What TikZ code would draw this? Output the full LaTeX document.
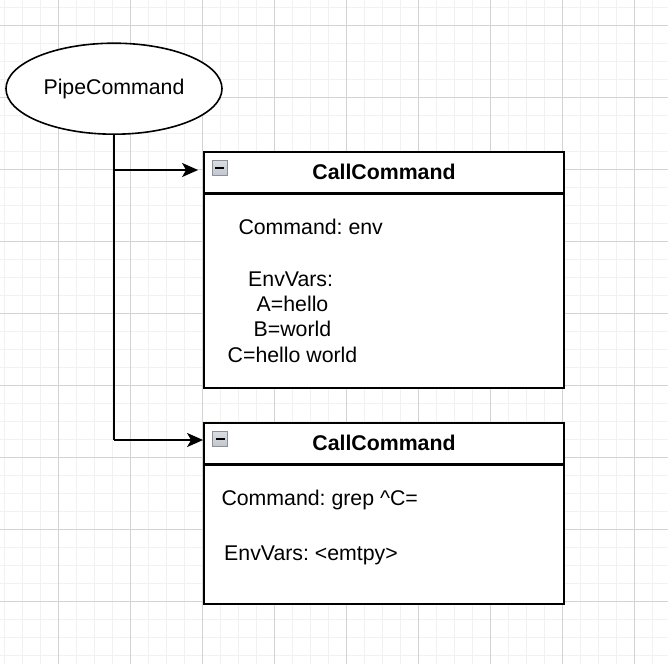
\documentclass[tikz,border=0pt]{standalone}
\usepackage{fontspec}
\setmainfont{Liberation Sans}
\frenchspacing
\usetikzlibrary{arrows.meta,shapes.geometric}
\definecolor{gridminor}{HTML}{F1F1F1}
\definecolor{gridmajor}{HTML}{D3D3D3}
\definecolor{iconfill}{HTML}{C2C6CE}
\definecolor{iconedge}{HTML}{8A8F99}
\tikzset{
  shapeline/.style={draw=black, line width=1.8pt},
  ellipsenode/.style={ellipse, draw=black, line width=1.6pt, fill=white, inner sep=0pt,
    minimum width=216pt, minimum height=91pt, font=\fontsize{21.3}{25}\selectfont},
  hdrbox/.style={shapeline, fill=white, minimum width=360pt, minimum height=40.7pt, inner sep=0pt,
    font=\fontsize{21.3}{25}\selectfont\bfseries},
  bodybox/.style={shapeline, fill=white, minimum width=360pt, inner sep=0pt},
  bodytext/.style={anchor=base west, inner sep=0pt, font=\fontsize{21.3}{25}\selectfont},
  iconbox/.style={draw=iconedge, line width=0.8pt, top color=iconfill!60!white, bottom color=iconfill,
    minimum size=15pt, inner sep=0pt},
  conn/.style={draw=black, line width=1.8pt},
  arr/.style={conn, -{Stealth[length=16pt,width=14pt,inset=4pt]}},
}
\begin{document}
\begin{tikzpicture}[x=1pt,y=-1pt]
\useasboundingbox (0,0) rectangle (668,664);
\fill[white] (0,0) rectangle (668,664);
% grid
\foreach \i in {0,...,36} {
  \draw[gridminor, line width=1pt] ({4.7+18*\i},0) -- ({4.7+18*\i},664);
  \draw[gridminor, line width=1pt] (0,{7.3+18*\i}) -- (668,{7.3+18*\i});
}
\foreach \i in {0,...,8} {
  \draw[gridmajor, line width=1pt] ({58.7+72*\i},0) -- ({58.7+72*\i},664);
  \draw[gridmajor, line width=1pt] (0,{25.3+72*\i}) -- (668,{25.3+72*\i});
}
% PipeCommand
\node[ellipsenode] (pipe) at (114,88.7) {\raisebox{-1pt}{PipeCommand}};
% first CallCommand
\node[hdrbox] (h1) at (384,172.35) {\raisebox{-1pt}{CallCommand}};
\node[bodybox, minimum height=193.3pt, anchor=north] (b1) at (h1.south) {};
\node[iconbox] (i1) at (219.8,167.7) {};
\draw[line width=2pt] ([xshift=-4.5pt]i1.center) -- ([xshift=4.5pt]i1.center);
\node[bodytext] (t1a) at (238.3,234.3) {Command: env};
\node[bodytext] (t1b) at (248,286) {EnvVars:};
\node[bodytext] (t1c) at (256.5,311.7) {A=hello};
\node[bodytext] (t1d) at (253.5,336.7) {B=world};
\node[bodytext] (t1e) at (227.5,362.7) {C=hello world};
% second CallCommand
\node[hdrbox] (h2) at (384,443.15) {\raisebox{-0.5pt}{CallCommand}};
\node[bodybox, minimum height=138.7pt, anchor=north] (b2) at (h2.south) {};
\node[iconbox] (i2) at (220.3,438.5) {};
\draw[line width=2pt] ([xshift=-4.5pt]i2.center) -- ([xshift=4.5pt]i2.center);
\node[bodytext] (t2a) at (221.3,505) {Command: grep \^{}C=};
\node[bodytext] (t2b) at (224,560) {EnvVars: <emtpy>};
% connectors
\coordinate (end1) at ([yshift=2.35pt]h1.west);
\coordinate (end2) at ([yshift=3.15pt]h2.west);
\draw[conn] (pipe.south) -- (pipe.south |- end2);
\draw[arr, shorten >=5pt] (pipe.south |- end1) -- (end1);
\draw[arr] (pipe.south |- end2) -- (end2);
\end{tikzpicture}
\end{document}
